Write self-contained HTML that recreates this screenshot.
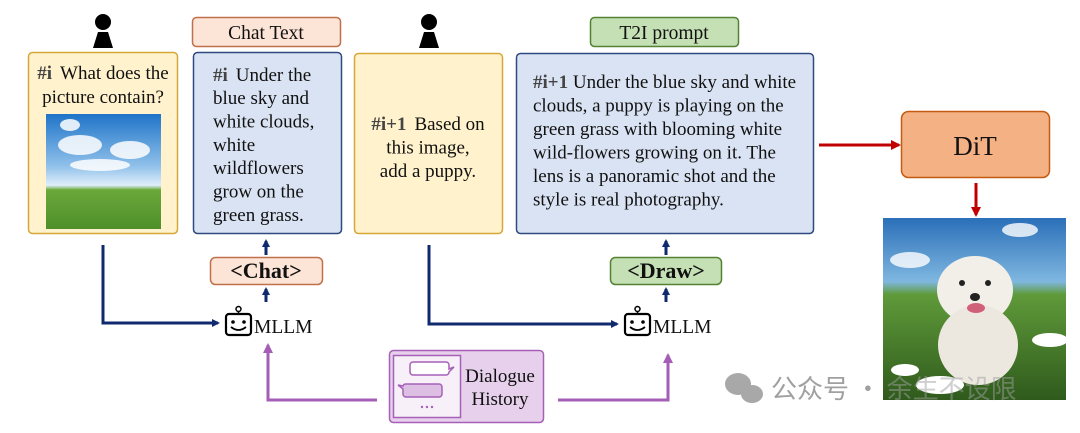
<!DOCTYPE html>
<html><head><meta charset="utf-8"><style>
html,body{margin:0;padding:0;background:#fff;}
svg{display:block;}
text{font-family:"Liberation Serif",serif;fill:#111;}
</style></head><body>
<svg width="1080" height="433" viewBox="0 0 1080 433" xmlns="http://www.w3.org/2000/svg">
<defs>
<linearGradient id="sky" x1="0" y1="0" x2="0" y2="1">
<stop offset="0" stop-color="#1f74c8"/><stop offset="0.45" stop-color="#8fc0ea"/><stop offset="0.62" stop-color="#dfeefa"/><stop offset="0.66" stop-color="#6aa83a"/><stop offset="1" stop-color="#4f8f2a"/></linearGradient>
<linearGradient id="psky" x1="0" y1="0" x2="0" y2="1">
<stop offset="0" stop-color="#2a6fb8"/><stop offset="0.35" stop-color="#7fb7e0"/><stop offset="0.42" stop-color="#5f9a3a"/><stop offset="1" stop-color="#2f5a1c"/></linearGradient>
<marker id="ab" markerWidth="8" markerHeight="8" refX="6" refY="4" orient="auto" markerUnits="userSpaceOnUse"><path d="M0,0 L8,4 L0,8z" fill="#0f2a6e"/></marker>
<marker id="ar" markerWidth="10" markerHeight="10" refX="8" refY="5" orient="auto" markerUnits="userSpaceOnUse"><path d="M0,0 L10,5 L0,10z" fill="#c00000"/></marker>
<marker id="ap" markerWidth="10" markerHeight="10" refX="8" refY="5" orient="auto" markerUnits="userSpaceOnUse"><path d="M0,0 L10,5 L0,10z" fill="#a55db5"/></marker>
</defs>

<!-- persons -->
<circle cx="103" cy="22" r="8" fill="#000"/><path d="M98,32 L108,32 L113,48 L93,48z" fill="#000"/>
<circle cx="429" cy="22" r="8" fill="#000"/><path d="M424,32 L434,32 L439,48 L419,48z" fill="#000"/>

<!-- box1 -->
<rect x="28.5" y="52.5" width="149" height="181" rx="4" fill="#fff2cc" stroke="#d6a838" stroke-width="1.5"/>
<text x="103" y="79" font-size="19" text-anchor="middle"><tspan font-weight="bold" fill="#444">#i</tspan><tspan dx="8">What does the</tspan></text>
<text x="103" y="103" font-size="19" text-anchor="middle">picture contain?</text>
<rect x="46" y="114" width="115" height="115" fill="url(#sky)"/>
<g fill="#fff" opacity="0.85"><ellipse cx="80" cy="145" rx="22" ry="10"/><ellipse cx="130" cy="150" rx="20" ry="9"/><ellipse cx="100" cy="165" rx="30" ry="6"/><ellipse cx="70" cy="125" rx="10" ry="6"/></g>

<!-- chat text label -->
<rect x="192.5" y="17.5" width="148" height="29" rx="4" fill="#fce4d6" stroke="#c0704a" stroke-width="1.5"/>
<text x="266" y="39" font-size="19.5" text-anchor="middle">Chat Text</text>
<!-- box2 -->
<rect x="193.5" y="52.5" width="148" height="181" rx="4" fill="#dae3f3" stroke="#2f4a80" stroke-width="1.5"/>
<g font-size="19"><text x="213" y="81"><tspan font-weight="bold" fill="#444">#i</tspan><tspan dx="8">Under the</tspan></text>
<text x="213" y="104">blue sky and</text><text x="213" y="127.5">white clouds,</text><text x="213" y="151">white</text><text x="213" y="174">wildflowers</text><text x="213" y="197.5">grow on the</text><text x="213" y="221">green grass.</text></g>

<!-- box3 -->
<rect x="354.5" y="53.5" width="148" height="180" rx="4" fill="#fff2cc" stroke="#d6a838" stroke-width="1.5"/>
<g font-size="19" text-anchor="middle"><text x="428" y="130"><tspan font-weight="bold" fill="#444">#i+1</tspan><tspan dx="8">Based on</tspan></text><text x="428" y="153.5">this image,</text><text x="428" y="177">add a puppy.</text></g>

<!-- T2I label -->
<rect x="590.5" y="17.5" width="148" height="29" rx="4" fill="#c5e0b4" stroke="#548235" stroke-width="1.5"/>
<text x="664" y="39" font-size="19.5" text-anchor="middle">T2I prompt</text>
<!-- box4 -->
<rect x="516.5" y="53.5" width="297" height="180" rx="4" fill="#dae3f3" stroke="#2f4a80" stroke-width="1.5"/>
<g font-size="19"><text x="533" y="88"><tspan font-weight="bold" fill="#444">#i+1</tspan> Under the blue sky and white</text>
<text x="533" y="111.5">clouds, a puppy is playing on the</text><text x="533" y="135">green grass with blooming white</text><text x="533" y="158.5">wild-flowers growing on it. The</text><text x="533" y="182">lens is a panoramic shot and the</text><text x="533" y="205.5">style is real photography.</text></g>

<!-- DiT -->
<line x1="819" y1="145" x2="899" y2="145" stroke="#c00000" stroke-width="3" marker-end="url(#ar)"/>
<rect x="901.5" y="111.5" width="148" height="66" rx="7" fill="#f4b183" stroke="#c55a11" stroke-width="1.5"/>
<text x="975" y="155" font-size="27" text-anchor="middle">DiT</text>
<line x1="976" y1="183" x2="976" y2="215" stroke="#c00000" stroke-width="3" marker-end="url(#ar)"/>
<!-- puppy image -->
<rect x="883" y="218" width="183" height="182" fill="url(#psky)"/>
<g fill="#fff" opacity="0.8"><ellipse cx="910" cy="260" rx="20" ry="8"/><ellipse cx="1020" cy="230" rx="18" ry="7"/></g>
<ellipse cx="975" cy="290" rx="38" ry="34" fill="#f2efe9"/>
<ellipse cx="978" cy="345" rx="40" ry="40" fill="#ece8e0"/>
<circle cx="962" cy="283" r="3" fill="#222"/><circle cx="988" cy="283" r="3" fill="#222"/>
<ellipse cx="975" cy="297" rx="5" ry="4" fill="#222"/><ellipse cx="976" cy="308" rx="9" ry="5" fill="#d0607a"/>
<g fill="#fff"><ellipse cx="940" cy="385" rx="24" ry="9"/><ellipse cx="1050" cy="340" rx="18" ry="7"/><ellipse cx="905" cy="370" rx="14" ry="6"/></g>

<!-- chat tags -->
<line x1="266" y1="255" x2="266" y2="241" stroke="#0f2a6e" stroke-width="3" marker-end="url(#ab)"/>
<rect x="210.5" y="257.5" width="112" height="27" rx="5" fill="#fce4d6" stroke="#c0704a" stroke-width="1.5"/>
<text x="266" y="278" font-size="22" font-weight="bold" text-anchor="middle">&lt;Chat&gt;</text>
<line x1="266" y1="302" x2="266" y2="289" stroke="#0f2a6e" stroke-width="3" marker-end="url(#ab)"/>

<line x1="666" y1="255" x2="666" y2="241" stroke="#0f2a6e" stroke-width="3" marker-end="url(#ab)"/>
<rect x="610.5" y="257.5" width="111" height="27" rx="5" fill="#c5e0b4" stroke="#548235" stroke-width="1.5"/>
<text x="666" y="278" font-size="22" font-weight="bold" text-anchor="middle">&lt;Draw&gt;</text>
<line x1="666" y1="302" x2="666" y2="289" stroke="#0f2a6e" stroke-width="3" marker-end="url(#ab)"/>

<!-- robots -->
<g id="rb">
<circle cx="238.5" cy="309" r="2.5" fill="none" stroke="#000" stroke-width="1.5"/>
<line x1="238.5" y1="311" x2="238.5" y2="314" stroke="#000" stroke-width="1.5"/>
<rect x="226" y="314" width="25" height="21" rx="3" fill="none" stroke="#000" stroke-width="2.2"/>
<circle cx="233" cy="322" r="1.8" fill="#000"/><circle cx="244" cy="322" r="1.8" fill="#000"/>
<path d="M231,327 Q238.5,333 246,327" fill="none" stroke="#000" stroke-width="1.8"/>
</g>
<text x="254" y="333" font-size="19.5">MLLM</text>
<use href="#rb" transform="translate(399,0)"/>
<text x="653" y="333" font-size="19.5">MLLM</text>

<!-- blue paths -->
<polyline points="103,245 103,323 218,323" fill="none" stroke="#0f2a6e" stroke-width="3" marker-end="url(#ab)"/>
<polyline points="429,245 429,324 617,324" fill="none" stroke="#0f2a6e" stroke-width="3" marker-end="url(#ab)"/>

<!-- purple paths -->
<polyline points="377,400 268,400 268,345" fill="none" stroke="#a55db5" stroke-width="3" marker-end="url(#ap)"/>
<polyline points="558,400 668,400 668,355" fill="none" stroke="#a55db5" stroke-width="3" marker-end="url(#ap)"/>

<!-- dialogue history -->
<rect x="389.5" y="350.5" width="154" height="72" rx="4" fill="#e6d0ec" stroke="#a760b8" stroke-width="1.5"/>
<rect x="393.5" y="355.5" width="67" height="62" fill="#f7f0f8" stroke="#a760b8" stroke-width="1.5"/>
<path d="M413,362 h33 a3,3 0 0 1 3,3 v4 l5,-2 l-5,5 a3,3 0 0 1 -3,3 h-33 a3,3 0 0 1 -3,-3 v-7 a3,3 0 0 1 3,-3z" fill="#fff" stroke="#a760b8" stroke-width="1.5"/>
<path d="M406,384 h33 a3,3 0 0 1 3,3 v7 a3,3 0 0 1 -3,3 h-33 a3,3 0 0 1 -3,-3 v-5 l-5,-4 l5,1 a3,3 0 0 1 3,-2z" fill="#dcbfe3" stroke="#a760b8" stroke-width="1.5"/>
<g fill="#a760b8"><circle cx="422" cy="407" r="1.2"/><circle cx="427" cy="407" r="1.2"/><circle cx="432" cy="407" r="1.2"/></g>
<text x="500" y="382" font-size="19" text-anchor="middle">Dialogue</text>
<text x="500" y="405" font-size="19" text-anchor="middle">History</text>

<!-- watermark -->
<g fill="#9a9a9a" opacity="0.85">
<ellipse cx="738" cy="384" rx="13" ry="11"/><ellipse cx="752" cy="394" rx="11" ry="9"/>
</g>
<text x="771" y="398" font-size="26" fill="#a0a0a0" style="font-family:'Noto Sans CJK SC',sans-serif;fill:#a0a0a0">公众号 · <tspan opacity="0.5">余生不设限</tspan></text>
</svg>
</body></html>
